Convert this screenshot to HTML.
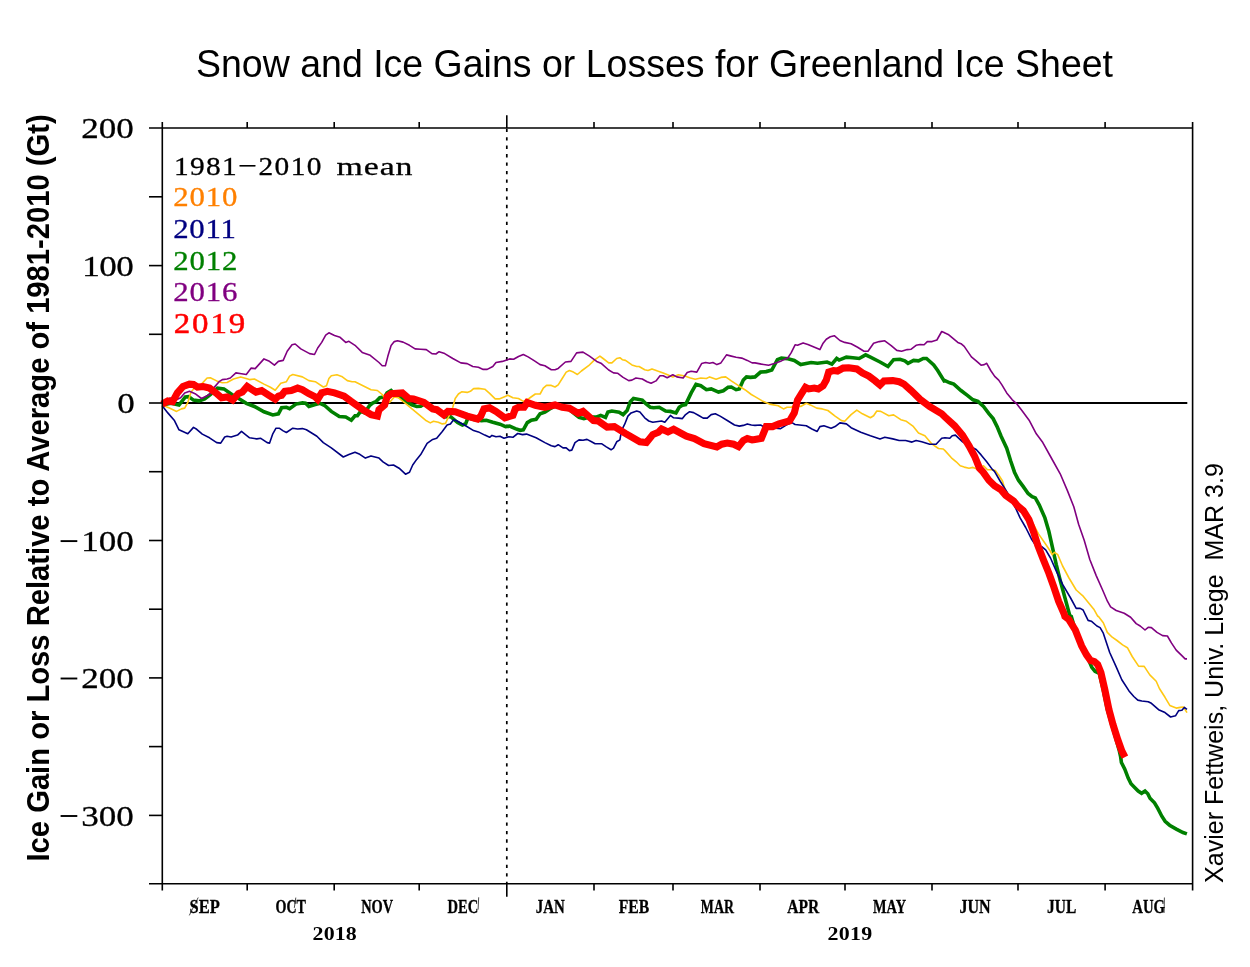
<!DOCTYPE html>
<html><head><meta charset="utf-8"><title>Snow and Ice Gains or Losses for Greenland Ice Sheet</title>
<style>
html,body{margin:0;padding:0;background:#fff;}
body{width:1250px;height:967px;position:relative;overflow:hidden;font-family:"Liberation Sans",sans-serif;}
</style></head><body>
<svg width="1250" height="967" viewBox="0 0 1250 967" style="position:absolute;left:0;top:0;will-change:transform">
<rect width="1250" height="967" fill="#fff"/>
<g fill="none" stroke-linejoin="round" stroke-linecap="butt">
<path d="M506.8,128.7 L506.8,883.8" stroke="#000" stroke-width="1.7" stroke-dasharray="3.3,5.16" fill="none"/>
<path d="M162.3,403.0 L1187.3,403.0" stroke="#000" stroke-width="1.8"/>
<path d="M162.2,404.9 L171.0,403.3 L179.0,404.9 L185.4,396.9 L188.7,396.6 L193.5,400.1 L199.1,400.9 L204.7,398.9 L210.3,394.5 L217.5,388.1 L223.9,388.9 L231.9,394.5 L239.9,399.3 L246.3,403.3 L254.4,406.5 L264.0,411.8 L272.8,414.9 L278.4,413.8 L281.6,407.8 L286.4,407.3 L289.6,408.6 L296.0,404.1 L302.4,402.9 L305.6,403.3 L308.9,406.5 L315.3,404.6 L320.1,403.3 L324.9,405.7 L331.3,411.4 L339.3,416.5 L345.7,417.0 L351.3,420.2 L355.0,415.8 L357.4,415.8 L360.6,411.4 L364.6,412.9 L369.4,405.7 L372.6,403.0 L375.8,401.7 L379.8,397.7 L384.6,396.9 L387.1,392.9 L391.1,390.5 L395.1,394.5 L399.9,396.9 L406.3,401.7 L411.9,404.9 L416.7,406.5 L420.7,406.2 L425.5,403.3 L435.1,409.7 L444.7,417.0 L450.4,416.5 L457.6,422.6 L462.4,425.0 L465.6,423.9 L468.0,417.8 L473.6,419.4 L481.6,420.6 L486.4,420.2 L492.8,422.2 L500.0,424.2 L505.6,426.6 L509.6,426.1 L515.3,428.6 L520.1,430.3 L523.3,429.8 L527.3,422.6 L531.3,420.2 L536.1,419.4 L540.1,413.8 L544.9,412.1 L549.7,408.9 L555.0,406.2 L562.2,408.1 L569.4,409.7 L575.8,414.9 L579.0,417.4 L583.9,418.6 L589.5,417.0 L596.7,417.0 L600.7,415.4 L605.5,417.4 L607.9,412.1 L611.9,411.0 L619.1,412.1 L623.1,414.6 L627.1,410.5 L630.3,401.7 L633.5,398.5 L642.3,400.1 L645.5,403.3 L650.4,407.3 L653.6,407.8 L659.2,407.3 L665.6,411.0 L670.4,411.4 L676.0,412.9 L679.2,407.3 L682.4,405.3 L685.6,404.6 L691.2,392.9 L696.0,384.4 L700.8,385.7 L706.4,389.7 L711.2,388.9 L718.5,392.1 L723.3,390.8 L728.1,387.3 L731.3,387.0 L736.1,389.7 L739.3,388.9 L743.3,380.1 L746.5,376.9 L750.5,377.4 L755.0,376.9 L760.6,372.1 L766.2,371.6 L771.8,370.0 L777.4,359.7 L781.4,358.1 L787.9,358.8 L794.3,360.4 L800.7,364.6 L811.1,362.5 L817.5,363.3 L827.1,362.0 L831.9,364.1 L836.7,358.5 L839.1,360.1 L846.4,357.2 L852.8,357.7 L859.2,358.5 L865.6,354.9 L870.4,357.2 L880.0,362.0 L888.0,366.5 L893.6,359.7 L900.0,359.3 L904.8,360.9 L908.0,363.3 L913.6,360.4 L918.5,360.9 L923.3,358.5 L926.5,358.5 L933.7,364.9 L937.7,370.5 L944.1,380.9 L945.0,380.6 L949.8,382.8 L953.8,384.1 L961.0,390.5 L967.4,395.3 L973.0,399.8 L977.9,401.4 L983.5,406.5 L989.1,413.8 L993.1,418.6 L997.1,426.6 L1001.1,436.2 L1006.7,448.2 L1010.7,461.0 L1014.5,472.2 L1018.5,480.2 L1023.3,486.6 L1028.1,493.5 L1032.1,496.7 L1035.3,497.9 L1039.3,505.1 L1044.9,517.9 L1048.9,531.5 L1053.0,549.9 L1056.2,564.4 L1060.2,580.4 L1065.0,598.0 L1069.8,615.6 L1071.3,616.4 L1075.3,630.0 L1081.7,646.1 L1086.5,654.9 L1091.8,667.4 L1095.0,671.2 L1099.3,673.3 L1103.3,690.1 L1107.3,709.4 L1111.7,724.6 L1116.2,739.8 L1119.4,751.0 L1120.6,756.6 L1121.4,762.5 L1124.8,769.2 L1128.2,778.1 L1131.0,783.8 L1134.9,787.7 L1138.2,791.0 L1141.6,793.3 L1145.0,791.0 L1147.8,793.8 L1150.0,798.3 L1154.5,802.8 L1157.8,808.4 L1161.8,816.2 L1165.1,821.3 L1169.6,825.2 L1176.3,829.1 L1183.0,832.5 L1186.9,833.9" stroke="#008000" stroke-width="3.6" stroke-linejoin="miter" stroke-miterlimit="2.5"/>
<path d="M162.2,404.9 L169.4,408.1 L176.6,411.4 L181.4,408.9 L184.7,408.1 L187.8,402.5 L191.1,392.1 L195.1,387.3 L201.5,384.1 L207.1,378.0 L210.3,377.7 L216.7,380.9 L222.3,382.8 L227.1,382.5 L233.5,379.0 L240.7,376.9 L249.6,379.6 L254.4,379.0 L264.0,384.1 L270.4,387.3 L275.2,390.2 L280.8,383.3 L286.4,381.7 L289.6,376.1 L292.8,374.5 L302.4,376.9 L308.9,380.6 L315.3,381.7 L323.3,387.0 L326.5,385.7 L328.9,378.5 L331.3,375.8 L336.9,374.8 L341.7,376.4 L347.3,380.6 L352.1,381.7 L355.0,381.7 L363.0,385.7 L371.0,389.7 L377.4,390.5 L382.2,394.5 L386.2,400.1 L389.5,402.5 L394.3,396.9 L398.3,397.7 L406.3,404.1 L415.9,412.1 L425.5,420.2 L430.3,422.9 L433.5,421.3 L438.3,422.2 L442.3,423.9 L445.5,423.4 L449.6,414.6 L452.8,407.3 L455.2,398.5 L458.4,394.0 L461.6,391.8 L467.2,392.4 L470.4,391.3 L473.6,388.6 L478.4,388.4 L484.8,389.2 L489.6,393.4 L495.2,398.9 L499.2,398.9 L504.0,396.9 L508.0,395.3 L512.9,397.7 L518.5,398.5 L523.3,401.4 L528.9,398.5 L535.3,394.0 L540.1,394.0 L543.3,388.1 L546.5,385.4 L551.3,385.4 L555.0,387.0 L558.2,384.9 L562.2,378.5 L566.2,372.1 L569.4,370.5 L573.4,372.1 L577.4,374.5 L581.4,371.0 L588.6,365.7 L594.3,360.1 L599.9,356.1 L603.1,358.5 L608.7,362.9 L611.9,362.9 L616.7,358.5 L619.9,357.7 L622.3,359.7 L625.5,360.4 L631.9,364.9 L636.7,366.5 L639.1,366.5 L644.7,369.7 L648.0,370.5 L652.0,368.9 L657.6,371.0 L663.2,372.9 L668.8,375.3 L672.8,376.9 L678.4,374.8 L684.8,376.1 L690.4,378.0 L695.2,379.3 L700.8,378.0 L706.4,378.5 L709.6,376.9 L716.1,379.3 L720.9,377.4 L725.7,376.9 L731.3,380.9 L738.5,385.7 L744.9,389.7 L751.3,394.5 L755.0,396.6 L762.2,400.9 L769.4,404.1 L778.2,405.7 L783.5,408.9 L787.0,407.3 L791.1,407.3 L795.1,404.6 L800.7,406.5 L806.3,403.3 L810.3,404.9 L816.7,408.1 L822.3,408.9 L827.9,410.5 L835.1,416.1 L841.5,420.6 L844.7,421.3 L851.1,414.6 L856.8,410.1 L862.4,413.8 L870.4,417.8 L873.6,415.8 L876.8,411.0 L880.8,411.4 L888.8,415.8 L893.6,414.9 L900.8,419.7 L906.4,421.3 L912.9,426.1 L918.5,433.0 L924.9,435.7 L932.1,444.2 L938.5,448.5 L943.3,449.0 L945.0,450.6 L951.4,457.8 L956.2,461.8 L960.2,465.8 L964.2,467.1 L969.0,468.2 L973.0,467.4 L977.0,469.0 L980.3,467.8 L983.5,465.8 L987.5,469.8 L992.3,469.8 L995.5,470.6 L997.9,474.2 L998.5,474.6 L1002.5,481.0 L1004.9,489.0 L1010.0,497.1 L1017.7,505.4 L1024.1,512.3 L1030.5,520.3 L1032.9,523.5 L1038.5,533.9 L1045.7,544.3 L1050.5,551.5 L1052.2,554.7 L1054.5,552.3 L1057.8,554.7 L1062.6,566.0 L1069.0,578.0 L1076.2,590.0 L1083.4,596.4 L1093.8,609.2 L1097.8,616.4 L1098.5,616.4 L1103.3,622.8 L1107.3,632.4 L1112.2,637.2 L1117.0,640.5 L1122.6,644.9 L1127.4,647.7 L1132.2,656.5 L1138.6,666.1 L1144.2,666.4 L1149.8,674.9 L1156.2,681.3 L1159.4,688.5 L1165.0,697.3 L1169.8,705.4 L1176.2,708.1 L1180.3,707.4 L1183.5,707.0 L1187.0,712.6" stroke="#ffc814" stroke-width="1.6"/>
<path d="M162.2,405.7 L167.8,412.9 L174.2,420.2 L179.0,429.8 L187.8,433.8 L193.5,427.4 L196.7,429.3 L202.3,434.1 L209.5,437.8 L216.7,442.6 L220.7,443.1 L224.7,437.0 L227.1,436.2 L231.1,437.0 L237.5,435.1 L241.5,431.4 L245.5,434.6 L249.6,437.8 L256.8,438.9 L260.8,438.3 L267.2,442.6 L269.6,443.1 L272.8,433.8 L276.0,428.2 L279.2,428.2 L283.2,430.9 L286.4,432.5 L292.8,428.2 L297.6,429.0 L302.4,428.6 L306.4,429.8 L316.9,436.2 L323.3,442.6 L331.3,447.9 L343.3,457.0 L348.9,454.6 L355.0,452.2 L359.8,454.3 L365.4,458.1 L371.0,455.9 L379.0,458.1 L383.0,461.8 L388.6,465.5 L393.5,465.0 L399.1,468.2 L405.5,474.2 L409.5,472.2 L412.7,465.0 L416.7,459.4 L420.7,454.6 L427.1,443.4 L432.7,439.4 L436.7,438.3 L442.3,431.4 L447.1,425.0 L450.4,423.9 L453.6,419.7 L457.6,421.3 L465.6,425.8 L473.6,430.6 L478.4,431.9 L484.8,435.1 L489.6,437.3 L492.0,435.4 L496.0,436.7 L500.0,436.2 L504.0,438.3 L508.9,436.7 L512.9,437.3 L517.7,433.5 L522.5,434.6 L526.5,434.1 L536.1,437.8 L544.9,442.6 L551.3,445.8 L555.0,446.6 L558.2,444.7 L563.0,447.9 L566.2,447.9 L569.4,450.6 L571.8,450.1 L575.0,442.6 L579.0,439.9 L583.0,440.2 L587.0,439.4 L591.1,441.5 L595.1,443.7 L601.5,443.7 L606.3,446.9 L611.1,449.8 L613.5,448.2 L616.7,441.8 L619.9,439.9 L621.5,430.6 L624.7,424.2 L627.9,416.1 L631.1,412.9 L636.7,411.0 L639.9,412.1 L644.7,417.8 L648.8,421.0 L652.8,422.2 L661.6,421.0 L664.8,422.2 L670.4,415.4 L673.6,417.8 L678.4,418.1 L682.4,418.6 L685.6,414.6 L689.6,411.7 L693.6,412.6 L699.2,415.8 L703.2,418.1 L707.2,418.1 L711.2,414.6 L715.3,413.8 L720.1,416.1 L728.1,421.0 L734.5,425.0 L739.3,426.1 L743.3,425.4 L747.3,423.9 L751.3,425.0 L755.0,425.4 L760.6,425.0 L764.6,427.1 L771.0,427.7 L780.6,428.6 L786.2,425.0 L791.9,422.6 L795.1,424.5 L806.3,425.8 L811.9,429.0 L817.2,431.4 L819.9,426.6 L823.9,425.8 L831.1,428.2 L835.1,426.6 L839.9,422.9 L846.4,423.9 L851.1,427.7 L860.8,432.2 L870.4,435.7 L880.0,438.9 L884.8,437.3 L892.8,438.9 L899.2,440.5 L905.6,440.5 L912.0,442.1 L916.1,440.5 L921.7,441.8 L929.7,444.2 L936.1,444.2 L941.7,438.3 L945.0,437.8 L949.8,438.3 L952.2,435.7 L955.4,435.1 L962.6,441.8 L969.0,445.8 L976.2,449.5 L981.1,454.9 L986.7,461.8 L992.3,469.4 L994.5,471.4 L1000.1,481.0 L1008.1,493.9 L1016.1,509.1 L1020.1,517.9 L1025.7,527.5 L1031.3,538.7 L1034.5,543.5 L1041.7,546.7 L1045.7,549.9 L1050.5,558.0 L1056.2,570.8 L1062.6,584.4 L1070.6,598.0 L1076.2,608.4 L1080.2,608.4 L1083.1,610.0 L1085.8,615.6 L1088.1,620.4 L1091.3,621.2 L1096.9,626.0 L1100.1,627.6 L1103.3,633.2 L1109.7,652.5 L1116.2,666.9 L1121.8,679.7 L1129.0,690.9 L1133.8,696.5 L1137.8,700.1 L1141.8,701.0 L1148.2,701.7 L1151.4,703.3 L1158.6,709.7 L1165.0,712.6 L1170.6,717.0 L1175.5,715.8 L1178.7,710.6 L1181.9,710.2 L1184.3,707.4 L1187.0,709.4" stroke="#000080" stroke-width="1.6"/>
<path d="M162.2,404.1 L166.2,400.9 L170.2,398.0 L175.8,400.1 L180.6,397.7 L184.7,392.9 L189.5,391.3 L195.1,393.7 L201.5,398.5 L209.5,394.5 L213.5,388.1 L219.1,381.7 L222.3,379.6 L227.1,379.0 L230.3,378.0 L235.9,372.9 L241.5,373.7 L246.3,374.5 L251.2,368.1 L255.2,368.6 L264.0,358.9 L268.8,360.9 L274.4,365.2 L278.4,361.4 L283.2,360.4 L287.2,351.2 L292.0,344.8 L295.2,344.0 L300.8,348.9 L309.6,353.6 L314.5,354.5 L317.7,348.0 L321.7,342.4 L325.7,335.2 L328.9,332.8 L334.5,335.5 L340.1,337.3 L345.7,342.4 L348.9,341.3 L355.0,345.3 L362.2,352.4 L370.2,355.3 L379.0,362.5 L382.2,365.7 L385.4,365.7 L387.9,356.1 L391.1,345.6 L394.3,341.6 L397.5,340.8 L403.1,342.1 L409.5,345.3 L415.1,348.9 L420.7,349.3 L426.3,349.6 L431.9,353.6 L435.9,354.0 L439.1,351.7 L444.7,353.6 L452.8,358.5 L460.8,362.9 L467.2,363.6 L472.8,366.5 L478.4,367.3 L483.2,369.4 L487.2,369.4 L492.8,366.5 L496.0,362.5 L502.4,361.4 L509.6,358.9 L513.6,359.3 L518.5,356.5 L523.3,354.5 L528.1,356.9 L534.5,360.9 L540.1,364.6 L544.9,365.7 L551.3,369.7 L555.0,369.7 L558.2,368.4 L565.4,362.0 L571.0,361.4 L576.6,352.9 L583.0,352.1 L589.5,356.1 L596.7,361.4 L601.5,363.6 L608.7,370.0 L613.5,372.9 L617.5,373.2 L623.1,377.4 L628.7,380.6 L631.9,380.1 L635.9,378.0 L642.3,379.0 L647.1,381.7 L651.1,383.3 L656.0,380.9 L660.0,375.8 L663.2,375.8 L667.2,377.7 L672.8,374.8 L676.8,376.9 L683.2,378.0 L687.2,372.6 L691.2,371.3 L696.8,372.1 L701.6,363.6 L705.6,362.5 L709.6,363.3 L712.9,362.5 L716.9,364.6 L720.9,362.9 L726.5,354.9 L731.3,356.1 L736.1,357.2 L741.7,358.1 L747.3,360.4 L752.1,362.9 L755.0,362.9 L761.4,364.1 L768.6,365.2 L774.2,363.6 L781.4,360.9 L787.9,357.7 L791.1,352.9 L795.1,344.8 L797.5,345.3 L803.1,342.9 L807.9,344.4 L819.9,349.6 L823.1,343.2 L826.3,339.2 L830.3,336.8 L834.3,335.7 L839.9,340.5 L844.7,342.4 L851.1,343.7 L857.6,347.2 L864.0,351.2 L868.0,351.2 L873.6,343.2 L879.2,341.6 L884.8,340.8 L891.2,345.6 L896.8,350.4 L901.6,351.2 L907.2,349.6 L911.2,349.2 L916.1,345.3 L920.1,344.5 L924.1,344.8 L927.3,341.6 L932.1,341.6 L936.9,340.0 L941.7,331.5 L944.1,332.5 L945.0,333.1 L948.2,334.4 L953.0,338.4 L957.8,342.4 L961.0,343.7 L964.2,346.4 L971.4,356.9 L976.2,360.9 L981.1,365.2 L984.3,364.6 L986.7,363.3 L990.7,370.5 L994.7,376.4 L998.7,380.1 L1001.9,384.9 L1006.7,392.9 L1012.3,399.8 L1016.3,403.3 L1021.9,410.5 L1029.1,420.2 L1036.3,433.8 L1042.8,442.6 L1050.8,457.0 L1060.2,473.8 L1067.4,490.6 L1073.8,506.7 L1078.6,524.3 L1084.2,540.3 L1089.8,559.5 L1096.2,575.6 L1102.6,590.0 L1107.4,601.2 L1110.6,606.8 L1116.2,610.5 L1124.2,613.2 L1130.6,617.2 L1136.2,623.6 L1140.2,626.0 L1145.0,630.0 L1148.2,627.3 L1151.4,627.6 L1157.0,632.4 L1162.6,635.6 L1167.4,636.0 L1171.4,642.9 L1176.2,650.1 L1181.1,654.9 L1185.1,658.9 L1187.0,658.9" stroke="#800080" stroke-width="1.6"/>
<path d="M162.2,404.1 L167.8,400.9 L172.6,401.7 L177.4,392.9 L183.0,386.5 L189.5,384.1 L193.5,384.4 L197.5,387.0 L203.1,386.5 L209.5,388.1 L215.9,392.9 L221.5,397.7 L227.1,396.9 L232.7,400.1 L238.3,393.7 L242.3,392.1 L247.2,386.5 L256.0,392.1 L261.6,390.5 L268.8,395.3 L275.2,399.3 L278.4,396.1 L281.6,395.3 L284.8,391.3 L291.2,390.5 L297.6,388.1 L302.4,389.7 L308.9,393.7 L315.3,396.9 L317.7,399.3 L321.7,392.9 L327.3,391.3 L334.5,392.9 L344.1,396.1 L350.5,400.9 L355.0,404.1 L363.0,409.7 L371.0,414.6 L377.4,416.1 L379.0,409.7 L384.6,404.9 L387.1,396.9 L391.1,393.7 L402.3,392.9 L408.7,398.5 L413.5,398.9 L423.9,402.5 L432.7,408.9 L436.7,409.7 L443.9,414.9 L447.9,411.4 L455.2,411.7 L467.2,416.1 L477.6,419.0 L480.8,416.1 L484.0,408.9 L489.6,407.8 L496.0,411.4 L504.8,417.8 L512.9,415.4 L515.3,408.9 L518.5,407.3 L524.1,407.3 L527.3,402.5 L535.3,405.3 L544.9,407.3 L555.0,404.9 L562.2,407.3 L569.4,408.1 L578.2,413.3 L583.0,411.4 L593.5,420.6 L598.3,421.0 L607.1,427.1 L614.3,426.6 L625.5,433.5 L639.9,441.8 L646.4,442.6 L652.8,434.6 L658.4,432.2 L661.6,429.0 L668.0,431.9 L673.6,429.3 L686.4,436.2 L694.4,438.6 L704.0,443.7 L716.9,446.9 L721.7,444.2 L727.3,443.1 L733.7,444.2 L738.5,446.6 L743.3,440.5 L747.3,438.6 L752.1,439.9 L755.0,439.4 L761.4,438.3 L766.2,426.6 L772.6,426.6 L779.0,423.9 L789.5,421.0 L794.3,412.9 L797.5,400.1 L801.5,393.7 L805.5,387.3 L808.7,388.9 L814.3,388.1 L818.3,388.9 L823.1,385.7 L826.3,380.1 L828.7,372.1 L833.5,370.5 L837.5,371.0 L843.1,368.1 L848.8,367.8 L856.8,368.9 L862.4,372.9 L868.8,376.1 L875.2,380.9 L880.0,384.9 L884.0,380.9 L892.8,380.6 L899.2,381.7 L904.0,384.1 L911.2,390.5 L920.1,399.3 L929.7,406.5 L941.7,413.8 L945.0,417.0 L954.6,425.8 L962.6,435.4 L969.0,445.8 L974.6,456.2 L979.5,468.2 L983.2,472.2 L988.9,480.2 L994.5,485.8 L1000.9,489.8 L1005.7,495.4 L1013.7,501.1 L1017.7,505.9 L1023.3,510.7 L1028.9,519.5 L1033.7,532.3 L1037.7,545.1 L1043.3,559.5 L1048.9,573.2 L1053.8,586.8 L1058.6,601.2 L1064.2,614.0 L1064.9,616.4 L1068.9,619.6 L1075.3,630.0 L1081.7,646.1 L1086.5,654.9 L1090.5,660.5 L1094.5,661.6 L1097.7,664.5 L1100.9,672.5 L1104.9,690.1 L1108.9,709.4 L1113.0,724.6 L1117.8,739.8 L1121.8,751.0 L1125.0,757.1" stroke="#ff0000" stroke-width="7.1" stroke-linejoin="miter" stroke-miterlimit="2.5"/>
</g>
<g stroke="#000" stroke-width="1.6" fill="none">
<path d="M162.3,122 L162.3,890.5"/>
<path d="M1192.6,122 L1192.6,890.5"/>
<path d="M149,128.0 L1192.6,128.0"/>
<path d="M149,883.8 L1192.6,883.8"/>
<path d="M247.2,122 L247.2,128.0"/>
<path d="M247.2,883.8 L247.2,890.5"/>
<path d="M334.2,122 L334.2,128.0"/>
<path d="M334.2,883.8 L334.2,890.5"/>
<path d="M419.2,122 L419.2,128.0"/>
<path d="M419.2,883.8 L419.2,890.5"/>
<path d="M506.8,115.2 L506.8,128.0"/>
<path d="M506.8,883.8 L506.8,896.7"/>
<path d="M594.0,122 L594.0,128.0"/>
<path d="M594.0,883.8 L594.0,890.5"/>
<path d="M673.0,122 L673.0,128.0"/>
<path d="M673.0,883.8 L673.0,890.5"/>
<path d="M760.0,122 L760.0,128.0"/>
<path d="M760.0,883.8 L760.0,890.5"/>
<path d="M845.0,122 L845.0,128.0"/>
<path d="M845.0,883.8 L845.0,890.5"/>
<path d="M932.0,122 L932.0,128.0"/>
<path d="M932.0,883.8 L932.0,890.5"/>
<path d="M1018.0,122 L1018.0,128.0"/>
<path d="M1018.0,883.8 L1018.0,890.5"/>
<path d="M1105.1,122 L1105.1,128.0"/>
<path d="M1105.1,883.8 L1105.1,890.5"/>
<path d="M149,196.8 L162.3,196.8"/>
<path d="M149,265.6 L162.3,265.6"/>
<path d="M149,334.3 L162.3,334.3"/>
<path d="M149,403.0 L162.3,403.0"/>
<path d="M149,471.7 L162.3,471.7"/>
<path d="M149,540.5 L162.3,540.5"/>
<path d="M149,609.2 L162.3,609.2"/>
<path d="M149,677.9 L162.3,677.9"/>
<path d="M149,746.6 L162.3,746.6"/>
<path d="M149,815.4 L162.3,815.4"/>
</g>
<text transform="translate(654.5,76.6) scale(1,1.035)" x="0" y="0" text-anchor="middle" font-family="Liberation Sans, sans-serif" font-size="37.5" fill="#000">Snow and Ice Gains or Losses for Greenland Ice Sheet</text>
<text transform="translate(48.6,861.5) rotate(-90) scale(1,1.05)" font-family="Liberation Sans, sans-serif" font-weight="bold" font-size="29.2" fill="#000">Ice Gain or Loss Relative to Average of 1981-2010 (Gt)</text>
<text transform="translate(1222.9,883) rotate(-90)" font-family="Liberation Sans, sans-serif" font-size="25.05" fill="#000" xml:space="preserve" style="white-space:pre">Xavier Fettweis, Univ. Liege  MAR 3.9</text>
<text transform="translate(81.2,138.3) scale(1.15,1)" x="0" y="0" textLength="45.7" lengthAdjust="spacing" font-family="Liberation Serif, serif" font-size="30.5" fill="#000" color="#000" stroke="currentColor" stroke-width="0.3">200</text>
<text transform="translate(82.2,275.8) scale(1.15,1)" x="0" y="0" textLength="44.9" lengthAdjust="spacing" font-family="Liberation Serif, serif" font-size="30.5" fill="#000" color="#000" stroke="currentColor" stroke-width="0.3">100</text>
<text transform="translate(117.3,413.2) scale(1.15,1)" x="0" y="0" textLength="13.9" lengthAdjust="spacing" font-family="Liberation Serif, serif" font-size="30.5" fill="#000" color="#000" stroke="currentColor" stroke-width="0.3">0</text>
<path d="M60.6,541.1 L77.3,541.1" stroke="#000" stroke-width="1.9"/>
<text transform="translate(81.2,550.7) scale(1.15,1)" x="0" y="0" textLength="45.7" lengthAdjust="spacing" font-family="Liberation Serif, serif" font-size="30.5" fill="#000" color="#000" stroke="currentColor" stroke-width="0.3">100</text>
<path d="M60.6,678.5 L77.3,678.5" stroke="#000" stroke-width="1.9"/>
<text transform="translate(81.2,688.1) scale(1.15,1)" x="0" y="0" textLength="45.7" lengthAdjust="spacing" font-family="Liberation Serif, serif" font-size="30.5" fill="#000" color="#000" stroke="currentColor" stroke-width="0.3">200</text>
<path d="M60.6,816.0 L77.3,816.0" stroke="#000" stroke-width="1.9"/>
<text transform="translate(81.2,825.6) scale(1.15,1)" x="0" y="0" textLength="45.7" lengthAdjust="spacing" font-family="Liberation Serif, serif" font-size="30.5" fill="#000" color="#000" stroke="currentColor" stroke-width="0.3">300</text>
<text x="189.6" y="912.9" textLength="30.2" lengthAdjust="spacingAndGlyphs" font-family="Liberation Serif, serif" font-weight="bold" font-size="18.3" fill="#000" color="#000" stroke="currentColor" stroke-width="0.3">SEP</text>
<text x="275.5" y="912.9" textLength="30.5" lengthAdjust="spacingAndGlyphs" font-family="Liberation Serif, serif" font-weight="bold" font-size="18.3" fill="#000" color="#000" stroke="currentColor" stroke-width="0.3">OCT</text>
<text x="361.2" y="912.9" textLength="31.9" lengthAdjust="spacingAndGlyphs" font-family="Liberation Serif, serif" font-weight="bold" font-size="18.3" fill="#000" color="#000" stroke="currentColor" stroke-width="0.3">NOV</text>
<text x="447.6" y="912.9" textLength="30.7" lengthAdjust="spacingAndGlyphs" font-family="Liberation Serif, serif" font-weight="bold" font-size="18.3" fill="#000" color="#000" stroke="currentColor" stroke-width="0.3">DEC</text>
<text x="535.7" y="912.9" textLength="29.0" lengthAdjust="spacingAndGlyphs" font-family="Liberation Serif, serif" font-weight="bold" font-size="18.3" fill="#000" color="#000" stroke="currentColor" stroke-width="0.3">JAN</text>
<text x="618.7" y="912.9" textLength="30.5" lengthAdjust="spacingAndGlyphs" font-family="Liberation Serif, serif" font-weight="bold" font-size="18.3" fill="#000" color="#000" stroke="currentColor" stroke-width="0.3">FEB</text>
<text x="700.8" y="912.9" textLength="33.1" lengthAdjust="spacingAndGlyphs" font-family="Liberation Serif, serif" font-weight="bold" font-size="18.3" fill="#000" color="#000" stroke="currentColor" stroke-width="0.3">MAR</text>
<text x="787.2" y="912.9" textLength="31.9" lengthAdjust="spacingAndGlyphs" font-family="Liberation Serif, serif" font-weight="bold" font-size="18.3" fill="#000" color="#000" stroke="currentColor" stroke-width="0.3">APR</text>
<text x="873.1" y="912.9" textLength="32.9" lengthAdjust="spacingAndGlyphs" font-family="Liberation Serif, serif" font-weight="bold" font-size="18.3" fill="#000" color="#000" stroke="currentColor" stroke-width="0.3">MAY</text>
<text x="959.5" y="912.9" textLength="31.2" lengthAdjust="spacingAndGlyphs" font-family="Liberation Serif, serif" font-weight="bold" font-size="18.3" fill="#000" color="#000" stroke="currentColor" stroke-width="0.3">JUN</text>
<text x="1047.1" y="912.9" textLength="29.3" lengthAdjust="spacingAndGlyphs" font-family="Liberation Serif, serif" font-weight="bold" font-size="18.3" fill="#000" color="#000" stroke="currentColor" stroke-width="0.3">JUL</text>
<text x="1132.3" y="912.9" textLength="32.7" lengthAdjust="spacingAndGlyphs" font-family="Liberation Serif, serif" font-weight="bold" font-size="18.3" fill="#000" color="#000" stroke="currentColor" stroke-width="0.3">AUG</text>
<text transform="translate(312.6,939.9) scale(1.2,1)" x="0" y="0" textLength="36.8" lengthAdjust="spacing" font-family="Liberation Serif, serif" font-weight="bold" font-size="18.3" fill="#000" color="#000">2018</text>
<text transform="translate(827.5,939.9) scale(1.2,1)" x="0" y="0" textLength="37.3" lengthAdjust="spacing" font-family="Liberation Serif, serif" font-weight="bold" font-size="18.3" fill="#000" color="#000">2019</text>
<g stroke="#000" stroke-width="0.7" fill="none">
<path d="M189.3,915.4 L198.2,897.5"/>
<path d="M294.3,907.9 L295.8,897.6"/>
<path d="M478.7,897.3 L478.1,909.6"/>
<path d="M1164.4,897.5 L1164.1,912.9"/>
</g>
<text transform="translate(174.0,174.7) scale(1.13,1)" x="0" y="0" textLength="55.4" lengthAdjust="spacing" font-family="Liberation Serif, serif" font-size="26" fill="#000" color="#000" stroke="currentColor" stroke-width="0.3">1981</text>
<path d="M239.5,165.8 L255.5,165.8" stroke="#000" stroke-width="1.6"/>
<text transform="translate(258.5,174.7) scale(1.13,1)" x="0" y="0" textLength="55.8" lengthAdjust="spacing" font-family="Liberation Serif, serif" font-size="26" fill="#000" color="#000" stroke="currentColor" stroke-width="0.3">2010</text>
<text transform="translate(336.6,174.7) scale(1.3,1)" x="0" y="0" textLength="58.4" lengthAdjust="spacing" font-family="Liberation Serif, serif" font-size="26" fill="#000" color="#000" stroke="currentColor" stroke-width="0.3">mean</text>
<text transform="translate(173.2,206.4) scale(1.13,1)" x="0" y="0" textLength="56.8" lengthAdjust="spacing" font-family="Liberation Serif, serif" font-size="27.3" fill="#ff8000" color="#ff8000" stroke="currentColor" stroke-width="0.3">2010</text>
<text transform="translate(173.2,238.2) scale(1.13,1)" x="0" y="0" textLength="55.6" lengthAdjust="spacing" font-family="Liberation Serif, serif" font-size="27.3" fill="#000080" color="#000080" stroke="currentColor" stroke-width="0.3">2011</text>
<text transform="translate(173.2,270.2) scale(1.13,1)" x="0" y="0" textLength="56.8" lengthAdjust="spacing" font-family="Liberation Serif, serif" font-size="27.3" fill="#008000" color="#008000" stroke="currentColor" stroke-width="0.3">2012</text>
<text transform="translate(173.2,301.4) scale(1.13,1)" x="0" y="0" textLength="56.8" lengthAdjust="spacing" font-family="Liberation Serif, serif" font-size="27.3" fill="#800080" color="#800080" stroke="currentColor" stroke-width="0.3">2016</text>
<text transform="translate(173.8,333.2) scale(1.13,1)" x="0" y="0" textLength="63.2" lengthAdjust="spacing" font-family="Liberation Serif, serif" font-size="29.2" fill="#ff0000" color="#ff0000" stroke="#ff0000" stroke-width="0.45">2019</text>
</svg>
</body></html>
